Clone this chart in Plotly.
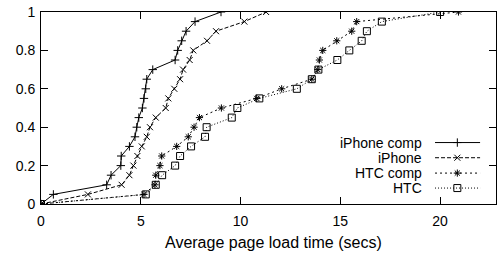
import plotly.graph_objects as go

# ---- data ----
cdf_levels = [0, 0.05, 0.10, 0.15, 0.20, 0.25, 0.30, 0.35, 0.40, 0.45, 0.50,
              0.55, 0.60, 0.65, 0.70, 0.75, 0.80, 0.85, 0.90, 0.95, 1.00]
iphone_comp_x = [0, 0.62, 3.29, 3.51, 4.0, 4.02, 4.43, 4.71, 4.8, 4.9, 5.08,
                 5.16, 5.25, 5.3, 5.6, 6.72, 6.85, 7.05, 7.27, 7.72, 9.02]
iphone_x = [0, 2.35, 4.04, 4.43, 4.63, 4.83, 5.05, 5.3, 5.46, 5.75, 6.25,
            6.38, 6.68, 6.97, 7.12, 7.45, 7.63, 8.32, 8.77, 10.19, 11.28]
htc_comp_x = [0, 5.16, 5.71, 5.75, 5.96, 6.05, 6.8, 7.38, 7.67, 7.94, 9.04,
              10.81, 12.06, 13.57, 13.87, 13.95, 14.12, 14.82, 15.57, 15.82, 20.92]
htc_x = [0, 5.25, 5.75, 6.07, 6.72, 6.97, 7.52, 8.22, 8.3, 9.56, 9.84,
         10.94, 12.82, 13.57, 13.9, 14.85, 15.45, 16.07, 16.33, 17.08, 20.0]

series_names = ["iPhone comp", "iPhone", "HTC comp", "HTC"]
series_x = [iphone_comp_x, iphone_x, htc_comp_x, htc_x]

x_ticks = [0, 5, 10, 15, 20]
y_ticks = [0, 0.2, 0.4, 0.6, 0.8, 1]
y_tick_text = ["0", "0.2", "0.4", "0.6", "0.8", "1"]
x_title = "Average page load time (secs)"

# ---- styles ----
FONT = "Liberation Sans, Arial, sans-serif"
styles = [
    dict(dash="solid", symbol="cross-thin-open", size=6),
    dict(dash="4px,2px", symbol="x-thin-open", size=6),
    dict(dash="2px,3px", symbol="asterisk-open", size=6),
    dict(dash="1px,2px", symbol="square-open", size=7),
]

fig = go.Figure()
for name, xs, st in zip(series_names, series_x, styles):
    fig.add_trace(go.Scatter(
        x=xs, y=cdf_levels, mode="lines+markers", name=name,
        line=dict(color="black", width=1, dash=st["dash"]),
        marker=dict(symbol=st["symbol"], size=st["size"], color="black",
                    line=dict(color="black", width=1)),
        showlegend=False, xaxis="x", yaxis="y"))

# ---- custom gnuplot-style legend (text left, sample right) ----
leg_rows = [0.320, 0.241, 0.161, 0.083]
leg_x0, leg_xm, leg_x1, leg_text_x = 0.866, 0.915, 0.965, 0.842
for name, st, ry in zip(series_names, styles, leg_rows):
    fig.add_trace(go.Scatter(
        x=[leg_x0, leg_x1], y=[ry, ry], mode="lines",
        line=dict(color="black", width=1, dash=st["dash"]),
        showlegend=False, hoverinfo="skip", xaxis="x2", yaxis="y2"))
    fig.add_trace(go.Scatter(
        x=[leg_xm], y=[ry], mode="markers",
        marker=dict(symbol=st["symbol"], size=st["size"], color="black",
                    line=dict(color="black", width=1)),
        showlegend=False, hoverinfo="skip", xaxis="x2", yaxis="y2"))
    fig.add_annotation(x=leg_text_x, y=ry, xref="x2", yref="y2", text=name,
                       showarrow=False, xanchor="right", yanchor="middle",
                       font=dict(family=FONT, size=14, color="black"))

fig.add_annotation(x=0.51, y=0, xref="paper", yref="paper", text=x_title,
                   showarrow=False, xanchor="center", yanchor="middle", yshift=-38,
                   font=dict(family=FONT, size=16, color="black"))

axis_common = dict(showgrid=False, zeroline=False, showline=True, linecolor="black",
                   linewidth=1, mirror="ticks", ticks="inside", ticklen=7,
                   tickcolor="black", tickwidth=1,
                   tickfont=dict(family=FONT, size=14, color="black"))

fig.update_layout(
    width=499, height=253,
    margin=dict(l=41, r=3, t=12, b=49, autoexpand=False),
    paper_bgcolor="white", plot_bgcolor="white",
    xaxis=dict(range=[0, 22.8], tickvals=x_ticks, ticklabelstandoff=4, **axis_common),
    yaxis=dict(range=[0, 1], tickvals=y_ticks, ticktext=y_tick_text,
               ticklabelstandoff=2, **axis_common),
    xaxis2=dict(range=[0, 1], overlaying="x", visible=False, fixedrange=True),
    yaxis2=dict(range=[0, 1], overlaying="y", visible=False, fixedrange=True),
    showlegend=False,
)

fig.write_html("out.html", config={"displayModeBar": False},
               post_script="document.body.style.margin='0';document.body.style.overflow='hidden';")
